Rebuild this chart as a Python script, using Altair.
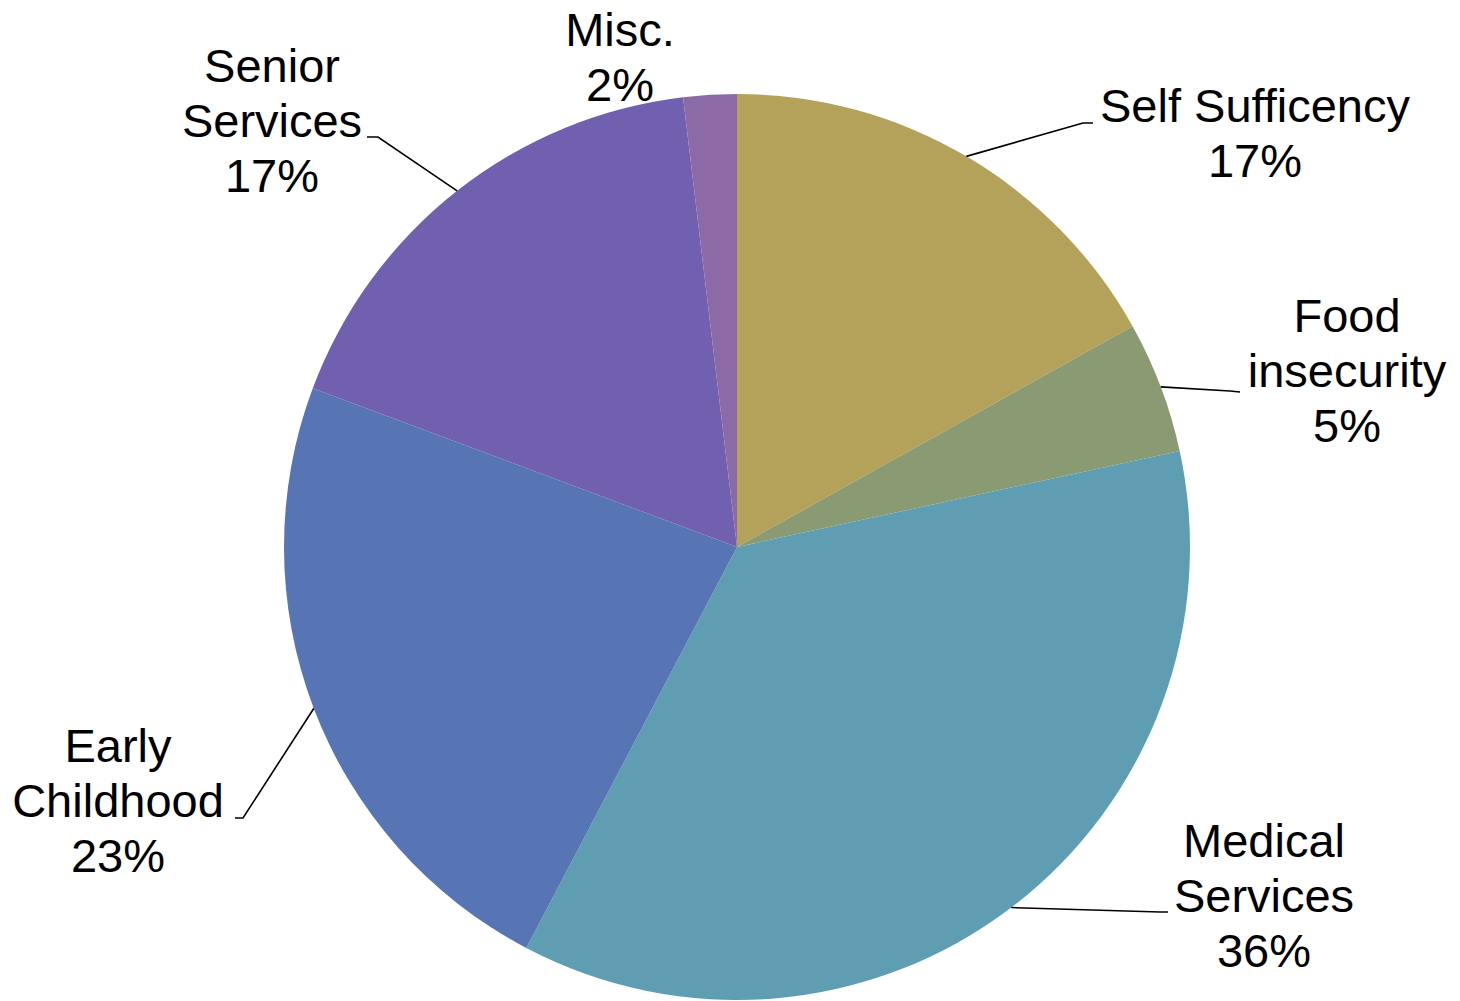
import math
import altair as alt
import pandas as pd

# ---- data ----
categories = ["Self Sufficency", "Food insecurity", "Medical Services",
              "Early Childhood", "Senior Services", "Misc."]
label_names = ["Self Sufficency", "Food\ninsecurity", "Medical\nServices",
               "Early\nChildhood", "Senior\nServices", "Misc."]
values = [16.9, 4.7, 36.1, 23.0, 17.4, 1.9]
colors = ["#B5A25A", "#8A9A72", "#5E9DB2", "#5775B5", "#7160AF", "#8C6AA6"]

# ---- layout (pixels relative to pie centre; y downward) ----
RADIUS = 453
W, H = 1430, 878
label_anchor = [(518, -425), (610, -215), (527, 310), (-619, 215), (-465, -465), (-117, -501)]
leader_elbow = [(346, -424), (493, -156), (423, 365), (-494, 271), (-359, -410), None]
leader_end = [(356, -424), (503, -155), (431, 365), (-502, 271), (-370, -410), None]

total = sum(values)
pie_df = pd.DataFrame({"cat": categories, "value": values, "idx": range(len(values))})

# label table
lab_rows = []
for i, (name, v) in enumerate(zip(label_names, values)):
    pct = round(100 * v / total)
    lab_rows.append({"cat": categories[i], "text": f"{name}\n{pct}%",
                     "x": label_anchor[i][0], "y": label_anchor[i][1]})
lab_df = pd.DataFrame(lab_rows)

# leader lines: start at slice mid-angle on the rim
line_rows = []
cum = 0.0
for i, v in enumerate(values):
    mid = (cum + v / 2) / total * 2 * math.pi
    cum += v
    if leader_elbow[i] is None:
        continue
    sx, sy = RADIUS * math.sin(mid), -RADIUS * math.cos(mid)
    pts = [(sx, sy), leader_elbow[i], leader_end[i]]
    for k, (px, py) in enumerate(pts):
        line_rows.append({"cat": categories[i], "step": k, "x": px, "y": py})
line_df = pd.DataFrame(line_rows)

xscale = alt.Scale(domain=[-W / 2, W / 2], range=[0, W], nice=False, zero=False)
yscale = alt.Scale(domain=[-H / 2, H / 2], range=[0, H], nice=False, zero=False)

pie = alt.Chart(pie_df).mark_arc(outerRadius=RADIUS, strokeWidth=0).encode(
    theta=alt.Theta("value:Q", stack=True),
    color=alt.Color("cat:N", scale=alt.Scale(domain=categories, range=colors), legend=None),
    order=alt.Order("idx:Q"),
)

lines = alt.Chart(line_df).mark_line(color="black", strokeWidth=1.6).encode(
    x=alt.X("x:Q", scale=xscale, axis=None),
    y=alt.Y("y:Q", scale=yscale, axis=None),
    detail="cat:N",
    order="step:Q",
)

labels = alt.Chart(lab_df).mark_text(
    font="Liberation Sans", fontSize=47, color="black", align="center",
    baseline="alphabetic", lineBreak="\n", lineHeight=55,
).encode(
    x=alt.X("x:Q", scale=xscale, axis=None),
    y=alt.Y("y:Q", scale=yscale, axis=None),
    text="text:N",
)

chart = alt.layer(pie, lines, labels).properties(
    width=W, height=H,
    padding={"left": 14, "top": 100, "right": 0, "bottom": 14},
    autosize=alt.AutoSizeParams(type="none"),
    background="white",
).configure_view(stroke=None)

chart.save("out.html", embed_options={"renderer": "svg", "actions": False})
